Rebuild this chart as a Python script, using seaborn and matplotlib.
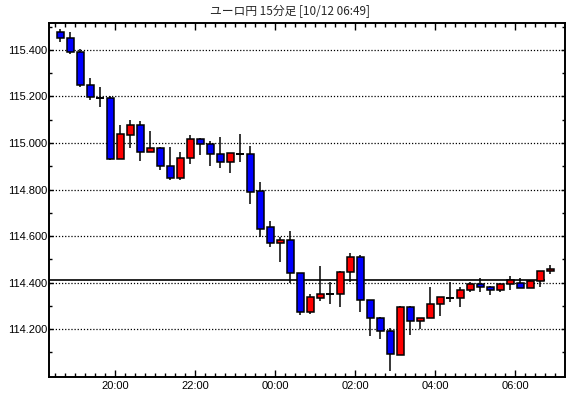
import numpy as np
import pandas as pd
import seaborn as sns
import matplotlib.pyplot as plt
from matplotlib.ticker import FormatStrFormatter

# 15 minute candles, EUR/JPY
opens = [115.478, 115.453, 115.391, 115.249, 115.195, 115.193, 114.933, 115.036, 115.077, 114.960,
         114.978, 114.900, 114.848, 114.934, 115.016, 114.995, 114.952, 114.920, 114.952, 114.952,
         114.792, 114.637, 114.568, 114.581, 114.439, 114.275, 114.335, 114.353, 114.352, 114.444,
         114.508, 114.323, 114.246, 114.190, 114.090, 114.296, 114.233, 114.246, 114.310, 114.335,
         114.332, 114.366, 114.392, 114.382, 114.366, 114.392, 114.396, 114.378, 114.405, 114.448]
highs = [115.491, 115.478, 115.404, 115.281, 115.242, 115.200, 115.078, 115.100, 115.095, 115.052,
         114.982, 114.983, 114.962, 115.034, 115.022, 115.008, 115.026, 114.956, 115.039, 114.986,
         114.832, 114.664, 114.598, 114.621, 114.439, 114.353, 114.471, 114.401, 114.449, 114.527,
         114.517, 114.323, 114.250, 114.204, 114.300, 114.300, 114.249, 114.379, 114.339, 114.401,
         114.383, 114.401, 114.418, 114.385, 114.399, 114.427, 114.418, 114.409, 114.448, 114.475]
lows = [115.433, 115.381, 115.239, 115.187, 115.153, 114.929, 114.933, 114.979, 114.924, 114.960,
        114.886, 114.843, 114.843, 114.911, 114.950, 114.903, 114.894, 114.873, 114.920, 114.739,
        114.597, 114.554, 114.489, 114.399, 114.262, 114.266, 114.322, 114.309, 114.296, 114.401,
        114.275, 114.171, 114.158, 114.021, 114.087, 114.176, 114.199, 114.246, 114.257, 114.315,
        114.296, 114.358, 114.361, 114.348, 114.358, 114.369, 114.378, 114.378, 114.382, 114.438]
closes = [115.453, 115.391, 115.249, 115.197, 115.195, 114.933, 115.038, 115.077, 114.960, 114.978,
          114.900, 114.848, 114.934, 115.016, 114.995, 114.952, 114.920, 114.956, 114.952, 114.791,
          114.631, 114.568, 114.581, 114.439, 114.275, 114.336, 114.353, 114.353, 114.444, 114.508,
          114.323, 114.246, 114.190, 114.091, 114.296, 114.233, 114.246, 114.309, 114.336, 114.335,
          114.366, 114.392, 114.382, 114.366, 114.392, 114.412, 114.378, 114.405, 114.448, 114.457]

time_labels = ["20:00", "22:00", "00:00", "02:00", "04:00", "06:00"]
label_pos = [5.5, 13.5, 21.5, 29.5, 37.5, 45.5]   # boundaries between candles
price_ticks = [114.2, 114.4, 114.6, 114.8, 115.0, 115.2, 115.4]
price_minor = [114.1, 114.3, 114.5, 114.7, 114.9, 115.1, 115.3, 115.5]
ref_price = 114.412
title = "ユーロ円 15分足 [10/12 06:49]"

df = pd.DataFrame({"open": opens, "high": highs, "low": lows, "close": closes})
df["idx"] = np.arange(len(df))

sns.set_theme(style="ticks")
plt.rcParams["font.family"] = ["Liberation Sans", "DejaVu Sans"]

fig = plt.figure(figsize=(5.7, 3.98), dpi=100)
ax = fig.add_axes([49 / 570, 1 - 377 / 398, 516 / 570, 354 / 398])

# wicks
ax.vlines(df["idx"], df["low"], df["high"], color="black", lw=1.1, zorder=2)

# bodies
for _, r in df.iterrows():
    if abs(r["close"] - r["open"]) < 0.002:
        ax.hlines(r["open"], r["idx"] - 0.36, r["idx"] + 0.36, color="black", lw=1.4, zorder=3)
        continue
    col = "#ff0000" if r["close"] > r["open"] else "#0000ff"
    ax.bar(r["idx"], abs(r["close"] - r["open"]), bottom=min(r["open"], r["close"]),
           width=0.7, color=col, edgecolor="black", lw=1.1, zorder=3)

ax.hlines(ref_price, -1.1, 48.5, color="black", lw=1.2, zorder=1)

ax.set_xlim(-1.1, 50.5)
ax.set_ylim(113.994, 115.516)

ax.set_yticks(price_ticks)
ax.set_yticks(price_minor, minor=True)
ax.yaxis.set_major_formatter(FormatStrFormatter("%.3f"))
ax.set_xticks(label_pos)
ax.set_xticklabels(time_labels)
ax.set_xticks(np.arange(-0.5, 50.5, 1), minor=True)

ax.tick_params(axis="both", which="both", direction="in", colors="black",
               top=True, right=True, labelsize=8, width=1)
ax.tick_params(axis="x", which="major", length=5, pad=3)
ax.tick_params(axis="x", which="minor", length=3)
ax.tick_params(axis="y", which="major", length=3, pad=1.5)
ax.tick_params(axis="y", which="minor", length=2.5)

ax.grid(axis="y", which="major", color="black", linestyle=(0, (1, 1.5)), lw=0.9)
ax.set_axisbelow(True)
for s in ax.spines.values():
    s.set_color("black")
    s.set_linewidth(1.4)

fig.text(0.508, 0.972, title, ha="center", va="center", fontsize=8.5,
         family=["Noto Sans CJK JP", "DejaVu Sans"])

fig.savefig("out.png", dpi=100)
